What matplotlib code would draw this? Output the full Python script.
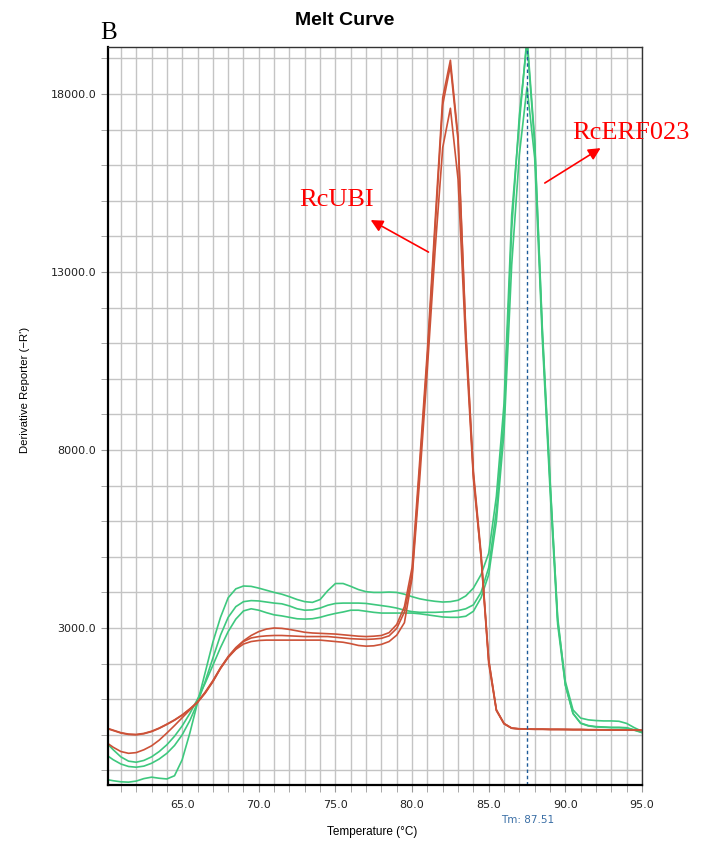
import numpy as np
import matplotlib
matplotlib.use("Agg")
import matplotlib.pyplot as plt
from matplotlib.ticker import MultipleLocator, FixedLocator
import matplotlib.transforms as mtransforms

# temperature sampling grid (deg C)
temps = np.arange(60.0, 95.01, 0.5)

# derivative reporter (-R') per well
rcubi_1 = [200, 130, 60, 20, 10, 40, 100, 190, 300, 420, 560, 730, 920, 1180, 1500, 1880,
           2200, 2450, 2640, 2790, 2900, 2970, 3000, 2990, 2960, 2920, 2880, 2860, 2850,
           2840, 2830, 2810, 2790, 2770, 2760, 2770, 2790, 2870, 3100, 3600, 4700, 7700,
           10800, 14400, 17900, 18950, 16800, 11400, 7400, 5100, 2100, 700, 320, 190, 170,
           165, 160, 160, 155, 155, 150, 150, 150, 145, 145, 140, 140, 135, 135, 130, 130]
rcubi_2 = [190, 120, 50, 10, 0, 30, 90, 180, 290, 410, 550, 720, 910, 1170, 1490, 1860,
           2170, 2420, 2620, 2720, 2760, 2780, 2790, 2790, 2780, 2770, 2760, 2760, 2760,
           2760, 2740, 2720, 2700, 2690, 2680, 2690, 2710, 2780, 2990, 3450, 4500, 7500,
           10600, 14200, 17700, 18800, 16700, 11300, 7300, 5000, 2000, 680, 310, 185, 165,
           160, 155, 155, 150, 150, 150, 145, 145, 140, 140, 140, 135, 135, 130, 130, 125]
rcubi_3 = [-200, -350, -470, -520, -500, -420, -310, -150, 50, 260, 480, 700, 920, 1200,
           1520, 1880, 2180, 2400, 2550, 2620, 2650, 2660, 2660, 2660, 2660, 2660, 2660,
           2660, 2660, 2640, 2620, 2600, 2560, 2510, 2490, 2500, 2540, 2620, 2800, 3150,
           4400, 7200, 10300, 13600, 16500, 17600, 15600, 11000, 7200, 5000, 2100, 700,
           310, 185, 165, 160, 155, 155, 150, 150, 150, 145, 145, 140, 140, 140, 135, 135,
           130, 130, 125]
rcerf_1 = [-1250, -1290, -1320, -1330, -1300, -1230, -1190, -1220, -1240, -1150, -700, 50,
           900, 1750, 2600, 3300, 3850, 4100, 4180, 4170, 4120, 4060, 4000, 3950, 3880, 3800,
           3740, 3720, 3800, 4050, 4250, 4250, 4170, 4080, 4020, 4000, 4000, 4010, 4000, 3950,
           3880, 3820, 3780, 3750, 3730, 3740, 3780, 3900, 4120, 4500, 5100, 6700, 9300,
           14600, 17200, 19600, 16700, 11400, 7200, 3200, 1500, 700, 470, 420, 400, 390, 390,
           380, 320, 200, 100]
rcerf_2 = [-550, -700, -820, -890, -910, -880, -800, -680, -520, -300, 0, 400, 900, 1500,
           2150, 2800, 3300, 3600, 3740, 3770, 3760, 3730, 3700, 3680, 3620, 3540, 3500, 3510,
           3560, 3640, 3690, 3700, 3700, 3700, 3690, 3660, 3630, 3600, 3560, 3500, 3460, 3440,
           3440, 3440, 3450, 3460, 3490, 3540, 3650, 4000, 4700, 6300, 8900, 14200, 17400,
           19450, 16600, 11300, 7100, 3300, 1400, 600, 330, 260, 230, 220, 210, 210, 200,
           140, 70]
rcerf_3 = [-200, -420, -620, -740, -770, -720, -620, -470, -280, -40, 250, 600, 1000, 1450,
           1950, 2450, 2900, 3250, 3480, 3540, 3500, 3430, 3370, 3340, 3300, 3260, 3250, 3260,
           3300, 3360, 3410, 3450, 3500, 3500, 3470, 3440, 3420, 3420, 3420, 3420, 3420, 3400,
           3370, 3340, 3310, 3300, 3300, 3330, 3470, 3850, 4500, 6000, 8500, 13200, 16300,
           18200, 16200, 11100, 6900, 3100, 1400, 600, 320, 250, 220, 210, 200, 200, 190,
           130, 60]

tm_value = 87.51
red = "#cc5238"
green = "#3ec87e"

fig = plt.figure(figsize=(7.05, 8.46), dpi=100)
ax = fig.add_axes([0.1532, 0.0721, 0.7574, 0.8723])

for ys in (rcerf_1, rcerf_2, rcerf_3):
    ax.plot(temps, ys, color=green, lw=1.2)
for ys in (rcubi_1, rcubi_2, rcubi_3):
    ax.plot(temps, ys, color=red, lw=1.2)

ax.axvline(tm_value, color="#1f5c99", lw=1, ls=(0, (2.5, 2)))

ax.set_xlim(60.16, 95.0)
ax.set_ylim(-1410, 19320)

ax.xaxis.set_major_locator(FixedLocator([65, 70, 75, 80, 85, 90, 95]))
ax.xaxis.set_minor_locator(MultipleLocator(1))
ax.yaxis.set_major_locator(FixedLocator([3000, 8000, 13000, 18000]))
ax.yaxis.set_minor_locator(MultipleLocator(1000))
ax.xaxis.set_major_formatter(lambda v, p: f"{v:.1f}")
ax.yaxis.set_major_formatter(lambda v, p: f"{v:.1f}")

ax.grid(which="both", color="#c4c4c4", lw=1)
ax.set_axisbelow(True)
ax.tick_params(which="both", length=5, color="#999999", labelsize=8, labelcolor="#222222")
ax.tick_params(axis="x", pad=6)

for side in ("left", "bottom"):
    ax.spines[side].set_linewidth(1.6)
for side in ("top", "right"):
    ax.spines[side].set_linewidth(1.0)
    ax.spines[side].set_color("#333333")

# axis labels placed where the reference has them
fig.text(372 / 705, 1 - 832 / 846, "Temperature (\u00b0C)", ha="center", va="center",
         fontsize=8.5, family="Liberation Sans")
fig.text(25 / 705, 1 - 390 / 846, "Derivative Reporter (\u2212R')", ha="center", va="center",
         rotation=90, fontsize=8.2, family="Liberation Sans")

trans = mtransforms.blended_transform_factory(ax.transData, ax.transAxes)
ax.text(tm_value, -0.047, f"Tm: {tm_value:.2f}", transform=trans, ha="center", va="center",
        fontsize=7.5, color="#3a6ea5")

fig.text(0.489, 0.976, "Melt Curve", ha="center", va="center", fontsize=14,
         fontweight="bold", family="Liberation Sans")
fig.text(0.142, 1 - 39 / 846, "B", ha="left", va="baseline", fontsize=18, family="Liberation Serif")

# labels with arrows
arrow = dict(arrowstyle="-|>", color="red", lw=1.2, mutation_scale=18, shrinkA=0, shrinkB=0)
ax.annotate("", xy=(77.3, 14460), xytext=(81.07, 13560), arrowprops=arrow)
ax.text(75.06, 15020, "RcUBI", color="red", fontsize=19, family="Liberation Serif",
        ha="center", va="center")
ax.annotate("", xy=(92.3, 16480), xytext=(88.66, 15500), arrowprops=arrow)
ax.text(94.28, 16900, "RcERF023", color="red", fontsize=19, family="Liberation Serif",
        ha="center", va="center", clip_on=False)

fig.savefig("out.png", dpi=100)
